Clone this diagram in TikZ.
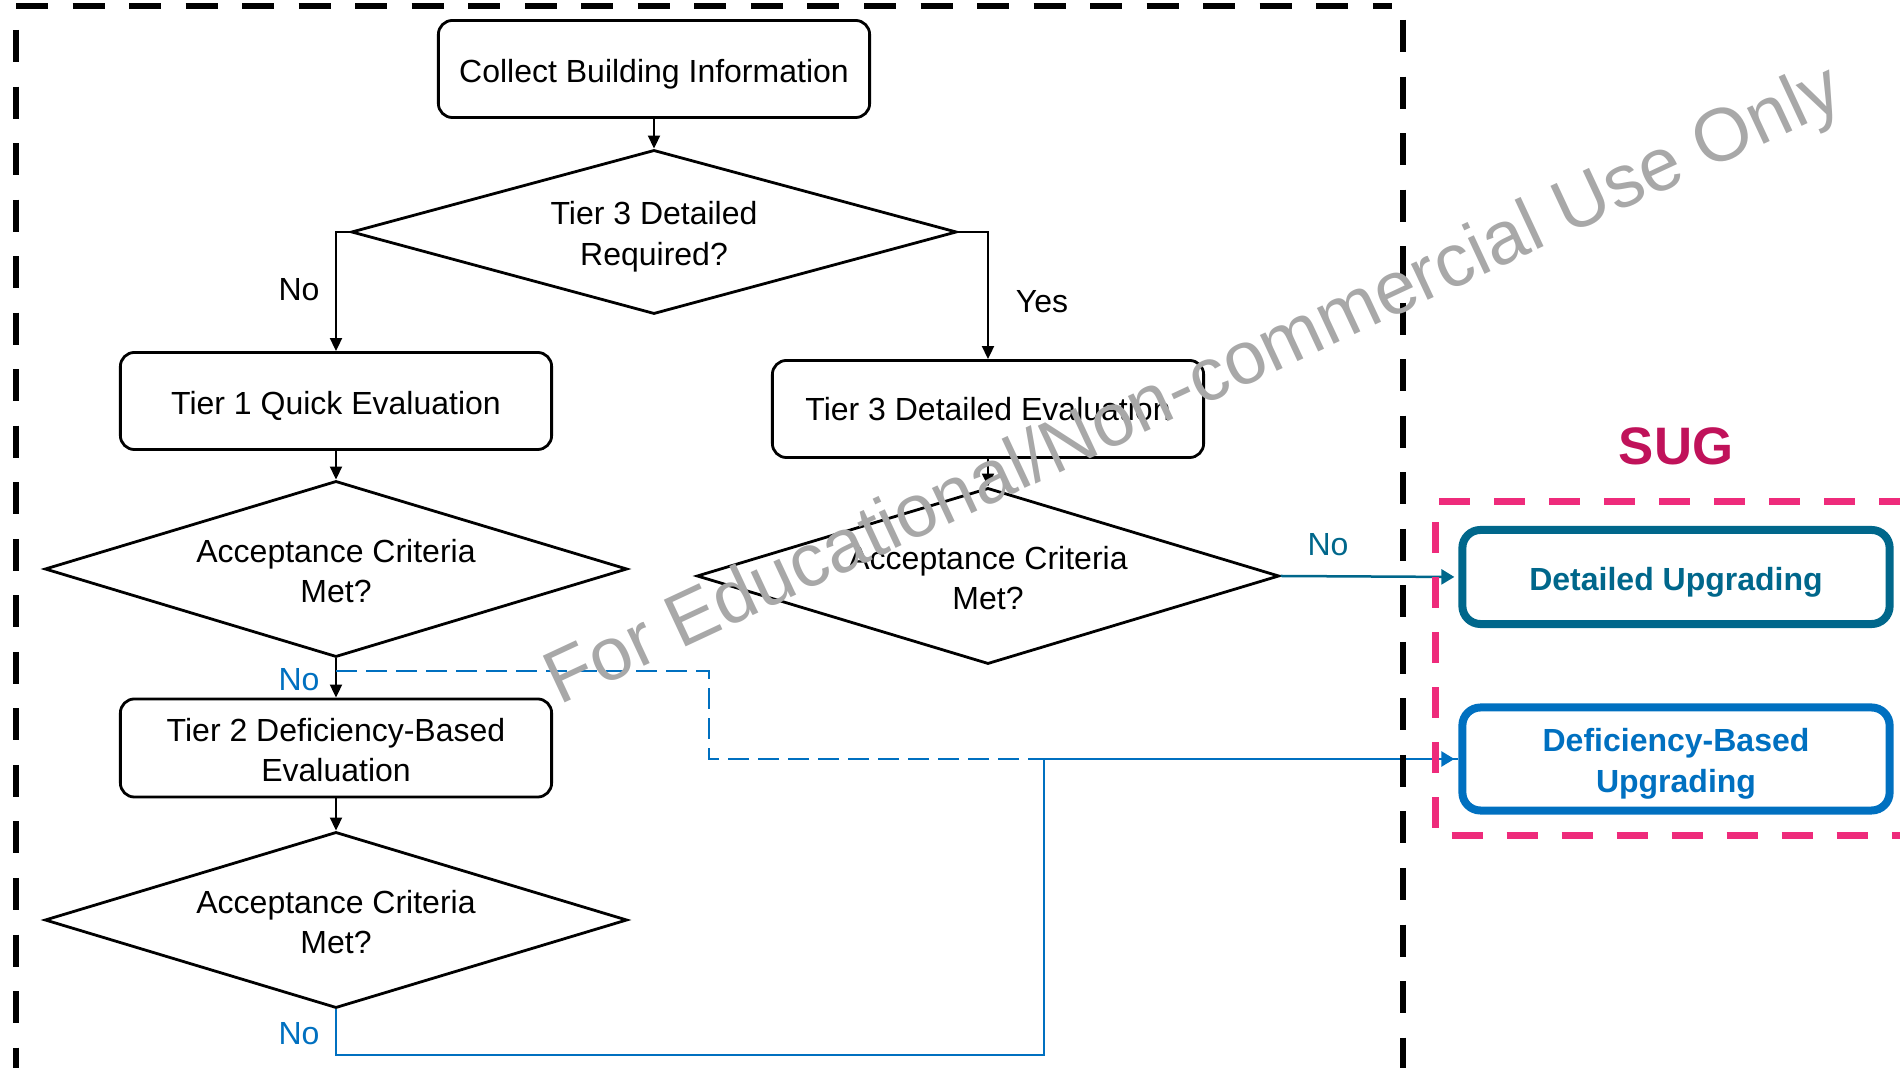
\documentclass[tikz,border=0pt]{standalone}
\usepackage{fontspec}
\setmainfont{Liberation Sans}
\usetikzlibrary{shapes.geometric,arrows.meta}
\definecolor{tealC}{RGB}{0,103,139}
\definecolor{blueC}{RGB}{0,112,192}
\definecolor{pinkC}{RGB}{238,43,123}
\definecolor{sugC}{RGB}{192,18,90}
\definecolor{wmC}{RGB}{168,168,168}
\begin{document}
\begin{tikzpicture}[x=0.01cm, y=-0.01cm,
  every node/.style={font=\fontsize{9.1}{11.4}\selectfont},
  proc/.style={draw, line width=0.028cm, rounded corners=0.14cm, minimum width=4.31cm, minimum height=0.97cm, align=center},
  dec/.style={draw, diamond, aspect=3.5, line width=0.028cm, inner sep=0pt, minimum width=5.82cm, minimum height=1.76cm, align=center, text height=19pt},
  upg/.style={draw, line width=0.08cm, rounded corners=0.18cm, minimum width=4.27cm, minimum height=0.94cm, align=center, font=\bfseries\fontsize{9.1}{11.4}\selectfont},
  arr/.style={line width=0.02cm, -{Triangle[length=0.13cm, width=0.12cm]}},
  link/.style={line width=0.025cm, shorten >=0.04cm, -{Triangle[length=0.13cm, width=0.15cm]}},
  frame/.style={line width=0.065cm, dash pattern=on 0.32cm off 0.245cm},
  pframe/.style={pinkC, line width=0.07cm, dash pattern=on 0.31cm off 0.24cm}]
\useasboundingbox (0,0) rectangle (1900,1068);
\clip (0,0) rectangle (1900,1068);

\node[proc, text height=9.6pt] (b0) at (654,69) {Collect Building Information};
\node[dec, minimum width=6.05cm, minimum height=1.64cm, text height=20.7pt] (d0) at (654,232) {Tier 3 Detailed\\Required?};
\node[proc, text height=9.6pt] (b1) at (336,401) {Tier 1 Quick Evaluation};
\node[proc] (b3) at (988,409) {Tier 3 Detailed Evaluation};
\node[dec] (d1) at (336,569) {Acceptance Criteria\\Met?};
\node[dec] (d3) at (988,576) {Acceptance Criteria\\Met?};
\node[proc, minimum height=0.98cm, text height=19pt] (b2) at (336,748) {Tier 2 Deficiency-Based\\Evaluation};
\node[dec] (d2) at (336,920) {Acceptance Criteria\\Met?};

\node[text=sugC, font=\bfseries\fontsize{15}{18}\selectfont] (sug) at (1676,446) {SUG};
\node[upg, draw=tealC, text=tealC, text height=9.6pt] (u0) at (1676,577) {Detailed Upgrading};
\node[upg, draw=blueC, text=blueC, text height=20.7pt] (u1) at (1676,759) {Deficiency-Based\\Upgrading};

\node (l0) at (299,290) {No};
\node (l1) at (1042,302) {Yes};
\node[text=blueC] (l2) at (299,680) {No};
\node[text=tealC] (l3) at (1328,545) {No};
\node[text=blueC] (l4) at (299,1034) {No};

\coordinate (s0) at (336,671);
\coordinate (c0) at (709,671);
\coordinate (c1) at (1044,1055);

\draw[arr](b0) -- (d0);
\draw[arr](d0.west) -| (b1.north);
\draw[arr](d0.east) -| (b3.north);
\draw[arr](b1) -- (d1);
\draw[arr](d1) -- (b2);
\draw[arr](b2) -- (d2);
\draw[arr](b3) -- (d3);
\draw[link, tealC](d3.east) -- (u0.west);
\draw[blueC, line width=0.025cm, dash pattern=on 0.21cm off 0.09cm](s0) -- (c0) |- (u1.west);
\draw[link, blueC](d2.south) |- (c1) |- (u1.west);

\draw[frame] (16,6) -- (1392,6);
\draw[frame] (16,30) -- (16,1090);
\draw[frame] (1403,20) -- (1403,1090);
\draw[pframe] (1910,502) -- (1435,502) -- (1435,836) -- (1910,836);

\node[rotate=25, text=wmC, font=\fontsize{21.3}{25}\selectfont] (wm) at (1195,388) {For Educational/Non-commercial Use Only};
\end{tikzpicture}
\end{document}
